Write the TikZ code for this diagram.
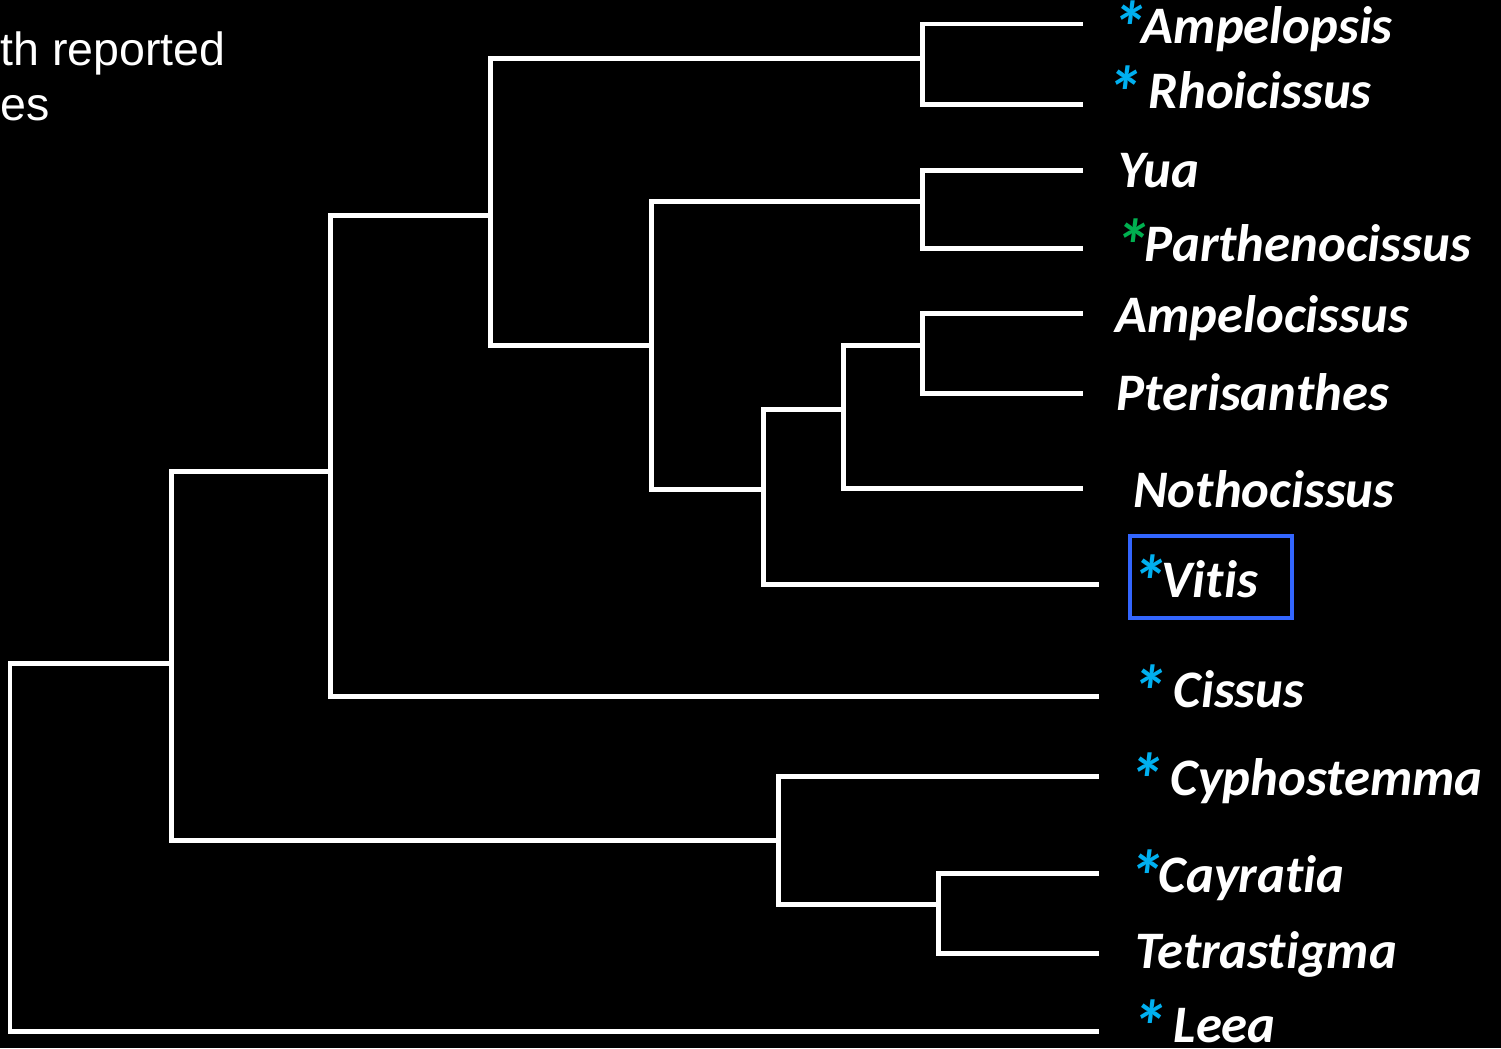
\documentclass[tikz,border=0pt]{standalone}
\usepackage{fontspec}
\usepackage{xcolor}
\usepackage{graphicx}
\usepackage{tikz}
\newfontfamily\taxafont{Carlito}[Ligatures=NoCommon]
\newfontfamily\notefont{Liberation Sans}
\definecolor{starblue}{HTML}{00B0F0}
\definecolor{stargreen}{HTML}{00B050}
\definecolor{boxblue}{HTML}{3366FF}
\newcommand{\bigstar}[1]{\smash{\textcolor{#1}{\raisebox{-0.2em}{\scalebox{1.4}{*}}}}\kern-0.1em}
\newcommand{\bstar}{\bigstar{starblue}}
\newcommand{\gstar}{\bigstar{stargreen}}

\begin{document}
\begin{tikzpicture}[x=0.02cm,y=-0.02cm,
  branch/.style={draw=white,line width=0.1cm},
  taxon/.style={anchor=base west,inner sep=0pt,text=white,
    font=\taxafont\fontsize{30}{35}\selectfont\bfseries\itshape},
  note/.style={anchor=base west,inner sep=0pt,text=white,
    font=\notefont\fontsize{26.5}{31}\selectfont}]
\useasboundingbox[fill=black] (0,0) rectangle (1501,1048);
%%%%%%%%%%%%%%%%
\node[note] (noteA) at (0,65) {th reported};
\node[note] (noteB) at (0,120) {es};
%%%%%%%%%%%%%%%%
\coordinate (root) at (10,847);
\coordinate (nA) at (171,663);
\coordinate (nB) at (330,471);
\coordinate (nC) at (778,840);
\coordinate (nD) at (490,215);
\coordinate (nE) at (922,58);
\coordinate (nF) at (651,345);
\coordinate (nG) at (922,201);
\coordinate (nH) at (763,489);
\coordinate (nI) at (843,409);
\coordinate (nJ) at (922,345);
\coordinate (nK) at (938,904);
%%%%%%%%%%%%%%%%
\coordinate (tAmp) at (1083,24);
\coordinate (tRho) at (1083,104);
\coordinate (tYua) at (1083,170);
\coordinate (tPar) at (1083,248);
\coordinate (tAmc) at (1083,313);
\coordinate (tPte) at (1083,393);
\coordinate (tNot) at (1083,488);
\coordinate (tVit) at (1099,584);
\coordinate (tCis) at (1099,696);
\coordinate (tCyp) at (1099,776);
\coordinate (tCay) at (1099,873);
\coordinate (tTet) at (1099,953);
\coordinate (tLee) at (1099,1031);
%%%%%%%%%%%%%%%%
\draw[branch] (root) |- (nA);
\draw[branch] (root) |- (tLee);
\draw[branch] (nA) |- (nB);
\draw[branch] (nA) |- (nC);
\draw[branch] (nB) |- (nD);
\draw[branch] (nB) |- (tCis);
\draw[branch] (nD) |- (nE);
\draw[branch] (nD) |- (nF);
\draw[branch] (nE) |- (tAmp);
\draw[branch] (nE) |- (tRho);
\draw[branch] (nF) |- (nG);
\draw[branch] (nF) |- (nH);
\draw[branch] (nG) |- (tYua);
\draw[branch] (nG) |- (tPar);
\draw[branch] (nH) |- (nI);
\draw[branch] (nH) |- (tVit);
\draw[branch] (nI) |- (nJ);
\draw[branch] (nI) |- (tNot);
\draw[branch] (nJ) |- (tAmc);
\draw[branch] (nJ) |- (tPte);
\draw[branch] (nC) |- (tCyp);
\draw[branch] (nC) |- (nK);
\draw[branch] (nK) |- (tCay);
\draw[branch] (nK) |- (tTet);
%%%%%%%%%%%%%%%%
\node[taxon] (ampelopsis) at (1110,43) {\bstar Ampelopsis};
\node[taxon] (rhoicissus) at (1105,108) {\bstar{} Rhoicissus};
\node[taxon] (yua) at (1118,187) {Yua};
\node[taxon] (parthenocissus) at (1113,261) {\gstar Parthenocissus};
\node[taxon] (ampelocissus) at (1115,332) {Ampelocissus};
\node[taxon] (pterisanthes) at (1116,410) {Pterisanthes};
\node[taxon] (nothocissus) at (1133,507) {Nothocissus};
\node[taxon] (vitis) at (1130,597) {\bstar Vitis};
\node[taxon] (cissus) at (1130,707) {\bstar{} Cissus};
\node[taxon] (cyphostemma) at (1127,795) {\bstar{} Cyphostemma};
\node[taxon] (cayratia) at (1127,892) {\bstar Cayratia};
\node[taxon] (tetrastigma) at (1135,968) {Tetrastigma};
\node[taxon] (leea) at (1130,1042) {\bstar{} Leea};
%%%%%%%%%%%%%%%%
\draw[boxblue,line width=0.08cm] (1130,536) rectangle (1292,618);
\end{tikzpicture}
\end{document}
